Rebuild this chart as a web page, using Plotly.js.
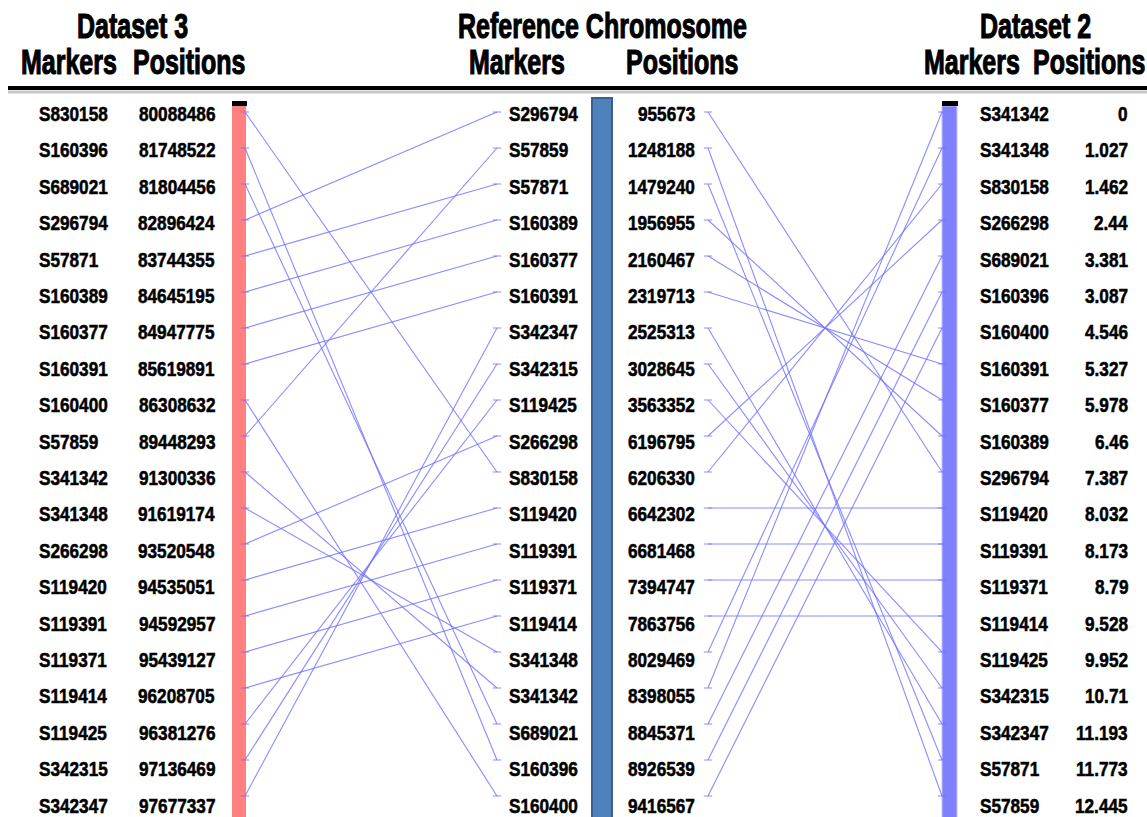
<!DOCTYPE html>
<html>
<head>
<meta charset="utf-8">
<script src="https://cdn.plot.ly/plotly-3.0.1.min.js"></script>
<style>
  html, body { margin: 0; padding: 0; background: #ffffff; }
  #chart { width: 1147px; height: 817px; }
</style>
</head>
<body>
<div id="chart"></div>
<script>
// Dataset 3 markers and their physical positions
const dataset3Markers = ["S830158","S160396","S689021","S296794","S57871","S160389","S160377","S160391","S160400","S57859",
  "S341342","S341348","S266298","S119420","S119391","S119371","S119414","S119425","S342315","S342347"];
const dataset3Positions = [80088486,81748522,81804456,82896424,83744355,84645195,84947775,85619891,86308632,89448293,
  91300336,91619174,93520548,94535051,94592957,95439127,96208705,96381276,97136469,97677337];

// Reference chromosome markers and positions
const referenceMarkers = ["S296794","S57859","S57871","S160389","S160377","S160391","S342347","S342315","S119425","S266298",
  "S830158","S119420","S119391","S119371","S119414","S341348","S341342","S689021","S160396","S160400"];
const referencePositions = [955673,1248188,1479240,1956955,2160467,2319713,2525313,3028645,3563352,6196795,
  6206330,6642302,6681468,7394747,7863756,8029469,8398055,8845371,8926539,9416567];

// Dataset 2 markers and map positions
const dataset2Markers = ["S341342","S341348","S830158","S266298","S689021","S160396","S160400","S160391","S160377","S160389",
  "S296794","S119420","S119391","S119371","S119414","S119425","S342315","S342347","S57871","S57859"];
const dataset2Positions = [0,1.027,1.462,2.44,3.381,3.087,4.546,5.327,5.978,6.46,
  7.387,8.032,8.173,8.79,9.528,9.952,10.71,11.193,11.773,12.445];

// ---- page geometry (x axis runs in page pixels) ----
const W = 1147, H = 817;
const X = {
  d3Marker: 37, d3Pos: 217, d3BarL: 232, d3BarR: 246,
  refMarker: 507, refBarL: 592, refBarR: 612, refPos: 697,
  d2BarL: 942, d2BarR: 957, d2Marker: 978, d2Pos: 1130,
  leftFrom: 245, leftTo: 497, rightFrom: 708, rightTo: 942
};
const py = px => 1 - px / H;   // page pixel row -> paper coordinate

// ---- connecting lines built by matching marker names ----
function links(fromNames, toNames, x0, x1) {
  const xs = [], ys = [];
  fromNames.forEach((name, i) => {
    const j = toNames.indexOf(name);
    if (j < 0) return;
    xs.push(x0, x1, null);
    ys.push(i, j, null);
  });
  return { xs, ys };
}
const left = links(dataset3Markers, referenceMarkers, X.leftFrom, X.leftTo);
const right = links(referenceMarkers, dataset2Markers, X.rightFrom, X.rightTo);

const lineStyle = { color: "rgba(110,110,255,0.8)", width: 1.1 };
const endStyle = { symbol: "line-ew", size: 6, line: { color: "rgba(110,110,255,0.8)", width: 1 } };

const traces = [
  { type: "scatter", mode: "lines+markers", x: left.xs, y: left.ys, line: lineStyle, marker: endStyle,
    hoverinfo: "skip", showlegend: false, connectgaps: false },
  { type: "scatter", mode: "lines+markers", x: right.xs, y: right.ys, line: lineStyle, marker: endStyle,
    hoverinfo: "skip", showlegend: false, connectgaps: false }
];

// ---- text: a tall condensed heavy face, imitated by stretching a bold sans vertically ----
const FAMILY = "Liberation Sans, Arial, sans-serif";
const labelFont = { family: FAMILY, size: 17.2, weight: "bold", color: "#000" };
const headFont = { family: FAMILY, size: 25, weight: "bold", color: "#000" };
const stretch = [];   // vertical stretch and outline per annotation

function column(values, x, anchor) {
  return values.map((v, i) => {
    stretch.push({ s: 1.16, size: labelFont.size, stroke: 0.45 });
    return {
      x: x, y: i, xref: "x", yref: "y2", text: String(v), showarrow: false,
      xanchor: anchor, align: anchor, yanchor: "middle", font: labelFont
    };
  });
}
function heading(text, x, yPx) {
  stretch.push({ s: 1.4, size: headFont.size, stroke: 0.8 });
  return { x: x, y: py(yPx), xref: "x", yref: "paper", text: text, showarrow: false,
    xanchor: "center", align: "center", yanchor: "middle", font: headFont };
}

const annotations = [
  heading("Dataset 3", 132, 25),
  heading("Markers", 69, 61),
  heading("Positions", 189, 61),
  heading("Reference Chromosome", 602, 25),
  heading("Markers", 517, 61),
  heading("Positions", 682, 61),
  heading("Dataset 2", 1035, 25),
  heading("Markers", 972, 61),
  heading("Positions", 1089, 61),
  ...column(dataset3Markers, X.d3Marker, "left"),
  ...column(dataset3Positions, X.d3Pos, "right"),
  ...column(referenceMarkers, X.refMarker, "left"),
  ...column(referencePositions, X.refPos, "right"),
  ...column(dataset2Markers, X.d2Marker, "left"),
  ...column(dataset2Positions, X.d2Pos, "right")
];

// ---- chromosome bars and header rule ----
const shapes = [
  { type: "line", xref: "x", yref: "paper", x0: 8, x1: W, y0: py(92), y1: py(92),
    line: { color: "rgba(0,0,0,0.22)", width: 3 }, layer: "below" },
  { type: "line", xref: "x", yref: "paper", x0: 8, x1: W, y0: py(88), y1: py(88),
    line: { color: "#000", width: 4 }, layer: "below" },
  // Dataset 3 bar
  { type: "rect", xref: "x", yref: "paper", x0: X.d3BarL, x1: X.d3BarR, y0: py(106), y1: py(H + 5),
    fillcolor: "#ff8080", line: { width: 0 }, layer: "below" },
  { type: "rect", xref: "x", yref: "paper", x0: X.d3BarL, x1: X.d3BarR + 1, y0: py(101), y1: py(106),
    fillcolor: "#000", line: { width: 0 }, layer: "below" },
  // Reference bar
  { type: "rect", xref: "x", yref: "paper", x0: X.refBarL, x1: X.refBarR, y0: py(98), y1: py(H + 5),
    fillcolor: "#4f81bd", line: { color: "#3a5f8c", width: 2 }, layer: "below" },
  // Dataset 2 bar
  { type: "rect", xref: "x", yref: "paper", x0: X.d2BarL, x1: X.d2BarR, y0: py(106), y1: py(H + 5),
    fillcolor: "#8080ff", line: { color: "#c4c4ff", width: 1 }, layer: "below" },
  { type: "rect", xref: "x", yref: "paper", x0: X.d2BarL, x1: X.d2BarR + 1, y0: py(101), y1: py(106),
    fillcolor: "#000", line: { width: 0 }, layer: "below" }
];

const layout = {
  width: W, height: H,
  margin: { l: 0, r: 0, t: 0, b: 0, pad: 0 },
  paper_bgcolor: "#fff", plot_bgcolor: "#fff",
  showlegend: false,
  xaxis: { range: [0, W], visible: false, fixedrange: true },
  // line rows: row 0 at 112px, row step 36px
  yaxis: { range: [19.583, -3.111], visible: false, fixedrange: true },
  // label rows: row 0 at 114px, last row at about 805px
  yaxis2: { range: [19.316, -3.132], visible: false, fixedrange: true, overlaying: "y" },
  annotations: annotations,
  shapes: shapes
};

Plotly.newPlot("chart", traces, layout, { staticPlot: true, displayModeBar: false }).then(gd => {
  gd.querySelectorAll("g.annotation").forEach(g => {
    const st = stretch[+g.getAttribute("data-index")];
    const t = g.querySelector("text.annotation-text");
    if (!st || !t) return;
    let cy;
    const yAttr = t.getAttribute("y");
    if (yAttr !== null && !isNaN(parseFloat(yAttr))) {
      cy = parseFloat(yAttr) - 0.36 * st.size;   // middle of the capitals
    } else {
      const b = t.getBBox();
      cy = b.y + b.height / 2;
    }
    t.setAttribute("transform",
      "translate(0," + cy + ") scale(1," + st.s + ") translate(0," + (-cy) + ")");
    t.style.stroke = "#000";
    t.style.strokeWidth = st.stroke + "px";
  });
});
</script>
</body>
</html>
